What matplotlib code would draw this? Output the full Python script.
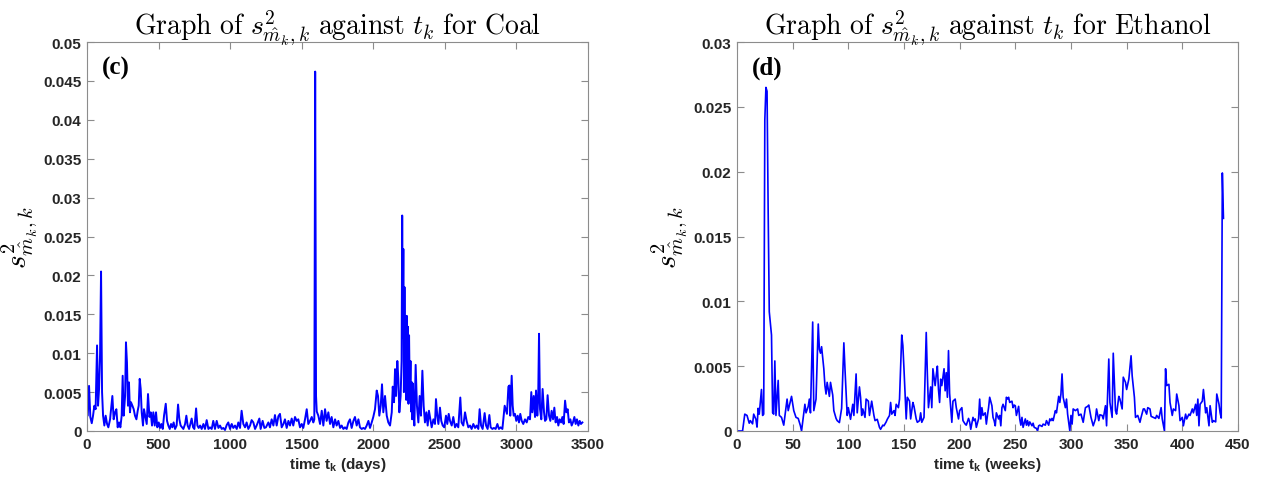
import numpy as np
import matplotlib.pyplot as plt

# coal: time in days, s^2 values in units of 1e-3
t_coal = [1, 5, 14, 23, 33, 42, 51, 60, 70, 77,
          84, 91, 98, 105, 112, 121, 130, 140, 149, 161,
          170, 177, 186, 196, 205, 214, 224, 233, 242, 249,
          256, 266, 272, 279, 286, 293, 300, 307, 317, 326,
          335, 345, 354, 361, 368, 375, 382, 391, 398, 408,
          417, 426, 436, 445, 454, 463, 473, 482, 491, 501,
          510, 519, 529, 538, 550, 559, 568, 578, 587, 596,
          605, 615, 626, 636, 645, 654, 664, 673, 685, 694,
          703, 713, 722, 731, 741, 750, 762, 771, 780, 790,
          801, 813, 824, 836, 848, 859, 871, 882, 894, 906,
          918, 929, 941, 952, 964, 976, 987, 999, 1011, 1022,
          1034, 1046, 1057, 1069, 1080, 1092, 1104, 1115, 1127, 1139,
          1150, 1162, 1174, 1185, 1204, 1213, 1227, 1239, 1250, 1267,
          1278, 1290, 1302, 1313, 1325, 1337, 1348, 1360, 1372, 1383,
          1395, 1407, 1418, 1430, 1441, 1453, 1465, 1476, 1488, 1500,
          1511, 1523, 1535, 1546, 1558, 1570, 1581, 1588, 1594, 1600,
          1605, 1616, 1628, 1640, 1651, 1663, 1674, 1686, 1698, 1709,
          1721, 1733, 1744, 1756, 1768, 1779, 1791, 1802, 1814, 1826,
          1837, 1849, 1861, 1872, 1884, 1896, 1907, 1919, 1931, 1942,
          1954, 1966, 1977, 1989, 2000, 2012, 2024, 2033, 2042, 2052,
          2061, 2070, 2082, 2094, 2105, 2117, 2129, 2136, 2145, 2152,
          2159, 2168, 2175, 2182, 2191, 2198, 2202, 2206, 2210, 2214,
          2218, 2222, 2226, 2230, 2234, 2238, 2242, 2246, 2250, 2255,
          2260, 2264, 2268, 2272, 2277, 2282, 2287, 2296, 2305, 2315,
          2324, 2333, 2343, 2352, 2361, 2371, 2380, 2389, 2399, 2408,
          2420, 2431, 2438, 2447, 2455, 2466, 2475, 2485, 2496, 2508,
          2517, 2527, 2536, 2548, 2559, 2571, 2582, 2594, 2608, 2617,
          2629, 2641, 2652, 2664, 2676, 2687, 2699, 2711, 2722, 2734,
          2743, 2753, 2764, 2778, 2788, 2799, 2811, 2820, 2832, 2843,
          2855, 2867, 2878, 2890, 2902, 2911, 2918, 2925, 2934, 2944,
          2951, 2957, 2967, 2974, 2981, 2990, 2999, 3009, 3018, 3027,
          3037, 3048, 3060, 3072, 3083, 3095, 3104, 3111, 3121, 3130,
          3137, 3146, 3152, 3158, 3165, 3174, 3183, 3193, 3200, 3209,
          3218, 3228, 3237, 3246, 3256, 3265, 3274, 3284, 3293, 3302,
          3312, 3321, 3330, 3340, 3349, 3358, 3367, 3377, 3386, 3395,
          3405, 3414, 3423, 3433, 3442, 3451, 3461]
s_coal = [2.0, 1.97, 5.8, 1.8, 1.0, 1.97, 3.25, 2.8, 11.0, 3.25,
          5.4, 9.9, 20.5, 5.0, 1.97, 0.7, 1.97, 0.9, 0.47, 1.5,
          3.25, 4.5, 1.5, 2.4, 2.8, 0.47, 1.1, 0.47, 1.97, 7.1,
          1.97, 4.5, 11.4, 8.8, 3.25, 6.25, 2.4, 3.7, 3.25, 2.8,
          1.97, 1.5, 2.6, 3.25, 6.7, 5.4, 2.4, 0.7, 2.8, 1.8,
          0.9, 4.75, 1.8, 2.4, 0.7, 2.4, 0.7, 2.4, 0.47, 1.1,
          0.39, 0.9, 0.26, 1.97, 3.5, 1.3, 0.7, 0.26, 0.9, 0.47,
          1.1, 0.26, 0.7, 3.4, 1.5, 0.7, 0.47, 0.26, 0.9, 1.97,
          0.7, 0.26, 0.9, 1.6, 0.47, 0.26, 2.9, 0.7, 0.39, 0.7,
          0.26, 0.9, 0.26, 1.4, 0.26, 0.47, 0.26, 1.3, 0.26, 1.3,
          0.39, 0.7, 0.26, 0.39, 0.13, 0.77, 1.1, 0.26, 0.9, 0.39,
          0.7, 0.26, 1.1, 0.39, 2.6, 0.9, 0.47, 1.1, 0.26, 0.7,
          1.4, 1.1, 0.26, 0.7, 1.6, 0.26, 1.3, 0.39, 0.47, 1.1,
          0.47, 1.5, 0.7, 2.05, 0.7, 1.9, 2.2, 0.47, 0.9, 1.5,
          0.39, 1.3, 0.7, 1.6, 0.7, 1.8, 1.3, 1.5, 0.47, 0.9,
          0.39, 1.5, 2.8, 0.9, 1.3, 1.8, 1.1, 1.5, 46.2, 4.5,
          2.5, 1.97, 0.9, 2.6, 0.7, 2.8, 1.3, 2.4, 0.9, 1.8,
          0.47, 1.5, 0.7, 1.3, 0.39, 0.7, 0.26, 0.47, 0.26, 1.1,
          1.5, 0.39, 1.3, 1.8, 0.7, 1.5, 0.47, 0.26, 0.39, 0.26,
          0.7, 1.3, 0.39, 1.1, 1.8, 2.8, 5.2, 4.5, 1.97, 3.25,
          6.0, 2.4, 4.5, 1.97, 1.1, 0.7, 2.4, 5.7, 3.7, 7.95,
          4.5, 9.0, 6.7, 2.4, 4.5, 9.0, 27.7, 12.0, 23.4, 5.0,
          18.5, 6.0, 12.7, 4.0, 14.8, 5.5, 13.4, 3.5, 12.3, 4.5,
          9.0, 2.5, 6.3, 1.5, 6.1, 2.0, 0.7, 8.5, 3.25, 1.1,
          4.5, 1.97, 7.75, 3.25, 1.1, 2.4, 0.7, 2.6, 1.5, 0.47,
          1.5, 0.9, 4.1, 1.97, 0.9, 3.0, 1.3, 0.7, 0.47, 1.97,
          0.9, 2.2, 1.3, 0.7, 1.8, 0.47, 0.9, 0.47, 4.3, 1.1,
          0.7, 2.4, 1.3, 0.47, 0.7, 0.26, 0.9, 0.39, 0.7, 0.26,
          2.8, 0.7, 0.26, 2.3, 0.7, 0.26, 2.05, 0.47, 0.26, 0.39,
          0.26, 0.9, 0.26, 0.47, 0.26, 1.97, 3.25, 2.8, 2.2, 5.7,
          5.85, 1.97, 7.1, 3.25, 1.97, 2.2, 1.3, 1.97, 1.1, 2.2,
          1.3, 0.9, 1.5, 1.1, 1.8, 1.5, 5.0, 2.4, 4.5, 1.8,
          5.2, 1.97, 4.0, 12.5, 2.8, 1.5, 5.4, 2.4, 1.3, 1.5,
          4.6, 1.97, 1.3, 2.6, 1.5, 3.0, 1.1, 1.8, 0.7, 1.5,
          1.1, 1.8, 0.9, 3.9, 2.4, 2.8, 1.1, 1.5, 0.7, 1.1,
          1.8, 0.9, 1.5, 0.7, 1.3, 0.9, 1.1]

# ethanol: time in weeks, s^2 values in units of 1e-3
t_eth = [1, 5, 7, 9, 11, 12, 14, 15, 17, 18,
         19, 20, 22, 23, 24, 25, 26, 27, 28, 29,
         30, 31, 32, 33, 34, 35, 37, 38, 40, 42,
         45, 46, 49, 51, 53, 55, 57, 58, 61, 62,
         64, 65, 66, 68, 69, 71, 73, 74, 75, 76,
         78, 79, 80, 81, 83, 84, 86, 87, 89, 90,
         92, 93, 94, 96, 97, 99, 100, 102, 104, 105,
         107, 108, 110, 111, 112, 113, 115, 116, 118, 119,
         121, 123, 124, 126, 128, 129, 131, 132, 134, 135,
         137, 138, 139, 141, 142, 143, 145, 146, 148, 149,
         150, 152, 153, 155, 156, 158, 159, 161, 162, 164,
         165, 166, 168, 170, 171, 172, 174, 175, 176, 178,
         179, 180, 181, 182, 183, 184, 186, 187, 188, 189,
         190, 191, 193, 194, 196, 197, 199, 200, 202, 203,
         205, 206, 208, 209, 210, 212, 213, 214, 215, 217,
         218, 219, 220, 221, 223, 224, 225, 226, 227, 229,
         230, 231, 232, 233, 235, 236, 237, 238, 239, 241,
         242, 243, 244, 245, 247, 248, 249, 250, 251, 253,
         254, 255, 256, 257, 259, 260, 261, 262, 263, 265,
         266, 267, 269, 270, 271, 272, 274, 275, 277, 278,
         280, 281, 282, 283, 284, 286, 287, 289, 290, 291,
         292, 293, 295, 296, 297, 299, 300, 301, 302, 304,
         306, 307, 309, 311, 313, 315, 316, 318, 320, 322,
         323, 325, 326, 328, 329, 331, 332, 334, 335, 337,
         338, 340, 341, 343, 344, 346, 347, 349, 350, 352,
         354, 355, 357, 358, 360, 362, 363, 365, 366, 368,
         369, 371, 372, 374, 376, 377, 379, 381, 382, 384,
         385, 386, 388, 389, 391, 392, 394, 395, 397, 398,
         400, 401, 403, 404, 406, 407, 409, 410, 412, 413,
         414, 415, 416, 418, 419, 421, 422, 424, 425, 427,
         428, 430, 431, 433, 434, 435, 436, 437]
s_eth = [0.0, 0.0, 1.3, 1.2, 0.6, 0.8, 0.55, 1.3, 0.9, 0.3,
         1.75, 1.3, 3.2, 1.2, 1.3, 24.0, 26.5, 26.2, 17.0, 9.2,
         8.3, 7.4, 1.4, 1.3, 5.4, 1.2, 3.9, 1.2, 1.05, 0.45,
         2.46, 1.57, 2.67, 1.57, 1.05, 0.97, 0.4, 0.0, 2.06, 1.4,
         1.9, 2.46, 1.4, 8.4, 1.57, 2.46, 8.25, 6.3, 6.0, 6.5,
         4.8, 3.5, 2.85, 3.75, 2.67, 3.75, 2.77, 1.57, 0.97, 0.8,
         0.65, 1.2, 1.75, 6.8, 4.8, 1.2, 1.8, 0.9, 2.06, 1.2,
         4.4, 1.4, 3.4, 2.6, 1.2, 1.7, 1.05, 2.46, 2.3, 1.2,
         2.3, 1.2, 0.8, 0.9, 0.28, 0.13, 0.45, 0.4, 0.7, 0.9,
         1.2, 2.2, 1.3, 1.57, 1.2, 2.06, 1.8, 2.46, 7.4, 6.6,
         4.8, 0.93, 2.6, 2.3, 0.93, 2.2, 1.9, 0.93, 0.67, 0.8,
         1.4, 0.67, 1.05, 7.6, 4.4, 1.8, 3.4, 1.8, 4.8, 3.5,
         4.3, 5.0, 3.2, 2.2, 4.0, 3.5, 4.8, 3.1, 4.5, 2.6,
         6.2, 2.9, 0.67, 2.3, 2.46, 1.8, 0.93, 1.57, 1.8, 0.8,
         0.53, 0.45, 0.97, 0.7, 0.13, 1.05, 0.8, 0.93, 0.28, 0.93,
         2.46, 0.93, 1.8, 1.2, 1.4, 0.53, 1.2, 1.8, 2.6, 1.95,
         1.05, 0.8, 0.4, 1.4, 0.93, 1.2, 0.4, 1.8, 2.06, 1.57,
         2.6, 2.46, 2.6, 2.2, 2.3, 1.8, 2.0, 1.95, 1.2, 1.9,
         0.93, 0.45, 1.05, 0.28, 0.93, 0.45, 0.8, 0.4, 0.7, 0.4,
         0.6, 0.28, 0.2, 0.0, 0.4, 0.45, 0.35, 0.53, 0.45, 0.8,
         0.45, 0.93, 0.8, 0.97, 0.8, 1.57, 1.4, 2.67, 2.2, 2.85,
         4.4, 2.6, 1.8, 2.46, 1.3, 0.0, 1.2, 0.53, 1.7, 1.57,
         1.7, 1.2, 1.3, 0.67, 1.8, 1.9, 2.0, 1.05, 0.4, 0.93,
         1.7, 0.8, 1.25, 1.2, 0.93, 1.95, 0.4, 5.55, 2.2, 1.05,
         6.0, 1.57, 1.3, 2.67, 2.46, 1.7, 4.15, 3.75, 3.2, 4.0,
         5.8, 4.25, 2.6, 1.05, 1.2, 0.67, 1.05, 1.7, 1.7, 1.3,
         1.8, 1.7, 1.13, 1.05, 0.97, 1.2, 0.97, 1.8, 0.93, 0.0,
         4.8, 3.5, 3.6, 2.2, 1.2, 1.7, 1.57, 2.85, 1.95, 0.8,
         1.05, 0.4, 1.3, 0.93, 1.3, 1.2, 1.7, 1.4, 2.06, 1.2,
         2.46, 0.4, 2.06, 2.3, 3.2, 1.4, 1.8, 0.4, 1.95, 0.67,
         0.8, 0.7, 2.85, 2.06, 1.4, 1.0, 19.9, 16.4]

plt.rcParams['mathtext.fontset'] = 'custom'
plt.rcParams['mathtext.rm'] = 'Liberation Sans:bold'
plt.rcParams['mathtext.bf'] = 'Liberation Sans:bold'
plt.rcParams['mathtext.it'] = 'Liberation Sans:bold'

fig = plt.figure(figsize=(12.65, 4.85), dpi=100)
ax1 = fig.add_axes([0.0688, 0.1093, 0.396, 0.802])
ax2 = fig.add_axes([0.5826, 0.1093, 0.396, 0.802])

panels = [
    (ax1, t_coal, s_coal, 'Coal', '(c)', 'days', 3500, 500, 0.05, 1.4),
    (ax2, t_eth, s_eth, 'Ethanol', '(d)', 'weeks', 450, 50, 0.03, 1.2),
]

for ax, t, s, name, tag, unit, xmax, xstep, ymax, lw in panels:
    ax.plot(t, np.array(s) * 1e-3, color='#0000ff', lw=lw)
    ax.set_xlim(0, xmax)
    ax.set_ylim(0, ymax)
    ax.set_xticks(np.arange(0, xmax + 1, xstep))
    yt = np.arange(0, ymax + 1e-9, 0.005)
    ax.set_yticks(yt)
    ax.set_yticklabels(['%g' % round(v, 3) for v in yt])
    for sp in ax.spines.values():
        sp.set_color('#8c8c8c')
        sp.set_linewidth(0.8)
    ax.tick_params(direction='in', top=True, right=True, length=5,
                   width=0.8, color='#8c8c8c', labelcolor='#262626',
                   labelsize=11, pad=4)
    for lab in ax.get_xticklabels() + ax.get_yticklabels():
        lab.set_fontfamily('Liberation Sans')
        lab.set_fontweight('bold')
    ax.set_title(r'$\mathrm{Graph\ of\ }s^2_{\hat{m}_k,k}\mathrm{\ against\ }t_k\mathrm{\ for\ %s}$' % name,
                 fontsize=20, math_fontfamily='cm', pad=6)
    ax.set_ylabel(r'$s^2_{\hat{m}_k,k}$', fontsize=21, math_fontfamily='cm', labelpad=2)
    ax.set_xlabel(r'time t$_\mathrm{k}$ (%s)' % unit, fontsize=11,
                  fontfamily='Liberation Sans', fontweight='bold', color='#262626', labelpad=3)
    ax.text(0.03, 0.965, tag, transform=ax.transAxes, ha='left', va='top',
            fontsize=18, fontfamily='Liberation Serif', fontweight='bold')

plt.savefig('out.png', dpi=100)
